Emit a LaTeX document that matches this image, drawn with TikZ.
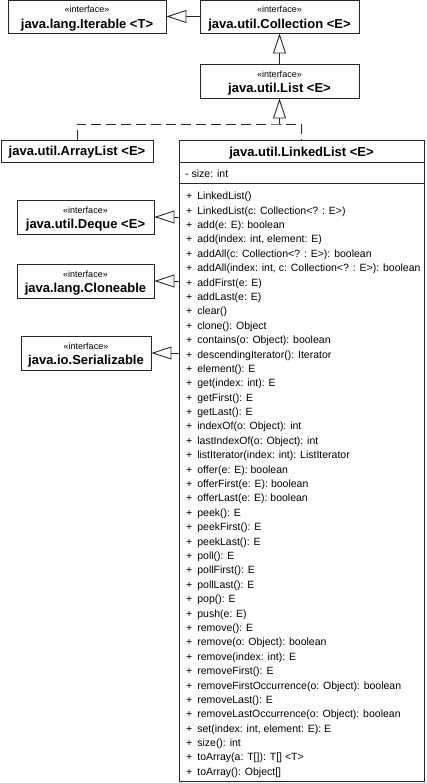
\documentclass[tikz,border=0pt]{standalone}
\usepackage{fontspec}
\setmainfont{Liberation Sans}
\usetikzlibrary{arrows.meta, positioning}

\begin{document}
\begin{tikzpicture}[x=1pt, y=-1pt,
    line/.style={draw=black!85, line width=0.9pt},
    box/.style={line, rectangle, inner sep=0pt},
    stereo/.style={font=\fontsize{9}{10}\selectfont, inner sep=0pt, text height=6pt, text depth=0pt},
    cname/.style={font=\fontsize{13}{15}\selectfont\bfseries, inner sep=0pt, text height=9.3pt, text depth=0pt},
    meth/.style={font=\fontsize{10.5}{12}\selectfont, inner sep=0pt, anchor=west, text height=7.5pt, text depth=0pt},
    gen/.style={line, -{Triangle[open, length=20pt, width=13pt]}},
    real/.style={line, dash pattern=on 10pt off 5pt}]
  \useasboundingbox (0,0) rectangle (426,783);

  % Interfaces at the top
  \node[box, minimum width=158pt, minimum height=33pt] (iter) at (87,16.5) {};
  \node[stereo] (iters) at (87,10) {«interface»};
  \node[cname] (itern) at (87,24) {java.lang.Iterable <T>};

  \node[box, minimum width=159pt, minimum height=33pt] (coll) at (279.5,16.5) {};
  \node[stereo] (colls) at (279.5,10) {«interface»};
  \node[cname] (colln) at (279.5,24) {java.util.Collection <E>};

  \node[box, minimum width=159pt, minimum height=34pt] (lst) at (279.5,81) {};
  \node[stereo] (lsts) at (279.5,74.5) {«interface»};
  \node[cname] (lstn) at (279.5,88) {java.util.List <E>};

  \draw[gen] (coll.west) -- (iter.east);
  \draw[gen] (lst.north) -- (coll.south);

  % Implementations of List
  \node[box, minimum width=152pt, minimum height=22pt] (al) at (77,151) {};
  \node[cname] (aln) at (77,151) {java.util.ArrayList <E>};

  \node[box, minimum width=245pt, minimum height=641pt] (ll) at (301.5,460.5) {};
  \node[cname] (lln) at (301.5,151.5) {java.util.LinkedList <E>};
  \draw[line] ([yshift=-23pt]ll.north west) -- ([yshift=-23pt]ll.north east);
  \draw[line] ([yshift=-44pt]ll.north west) -- ([yshift=-44pt]ll.north east);
  \node[meth] (size) at (185,173.5) {- size: int};

  \coordinate (jn) at (279.5,124);
  \draw[real] (al.north) |- (jn) -| (ll.north);
  \draw[real, -{Triangle[open, length=20pt, width=13pt]}] (jn) -- (lst.south);

  % Methods
  \foreach \m [count=\i] in {LinkedList(), {LinkedList(c: Collection<? : E>)}, add(e: E): boolean,
      {add(index: int, element: E)}, addAll(c: Collection<? : E>): boolean,
      {addAll(index: int, c: Collection<? : E>): boolean}, addFirst(e: E), addLast(e: E),
      clear(), clone(): Object, contains(o: Object): boolean, descendingIterator(): Iterator,
      element(): E, get(index: int): E, getFirst(): E, getLast(): E, indexOf(o: Object): int,
      lastIndexOf(o: Object): int, listIterator(index: int): ListIterator, offer(e: E): boolean,
      offerFirst(e: E): boolean, offerLast(e: E): boolean, peek(): E, peekFirst(): E,
      peekLast(): E, poll(): E, pollFirst(): E, pollLast(): E, pop(): E, push(e: E),
      remove(): E, remove(o: Object): boolean, remove(index: int): E, removeFirst(): E,
      removeFirstOccurrence(o: Object): boolean, removeLast(): E,
      removeLastOccurrence(o: Object): boolean, {set(index: int, element: E): E}, size(): int,
      toArray(a: T[]): T[] <T>, toArray(): Object[]} {
    \node[meth] (m\i) at (186, {196+(\i-1)*14.39}) {+\hspace{5pt}\m};
  }

  % Other interfaces of LinkedList
  \node[box, minimum width=137pt, minimum height=34pt] (dq) at (85.5,217) {};
  \node[stereo] (dqs) at (85.5,210.5) {«interface»};
  \node[cname] (dqn) at (85.5,224) {java.util.Deque <E>};

  \node[box, minimum width=137pt, minimum height=34pt] (cl) at (85.5,281) {};
  \node[stereo] (cls) at (85.5,274.5) {«interface»};
  \node[cname] (cln) at (85.5,288) {java.lang.Cloneable};

  \node[box, minimum width=130pt, minimum height=34pt] (ser) at (86,353) {};
  \node[stereo] (sers) at (86,346.5) {«interface»};
  \node[cname] (sern) at (86,360) {java.io.Serializable};

  \draw[gen] (ll.west |- dq.east) -- (dq.east);
  \draw[gen] (ll.west |- cl.east) -- (cl.east);
  \draw[gen] (ll.west |- ser.east) -- (ser.east);
\end{tikzpicture}
\end{document}
